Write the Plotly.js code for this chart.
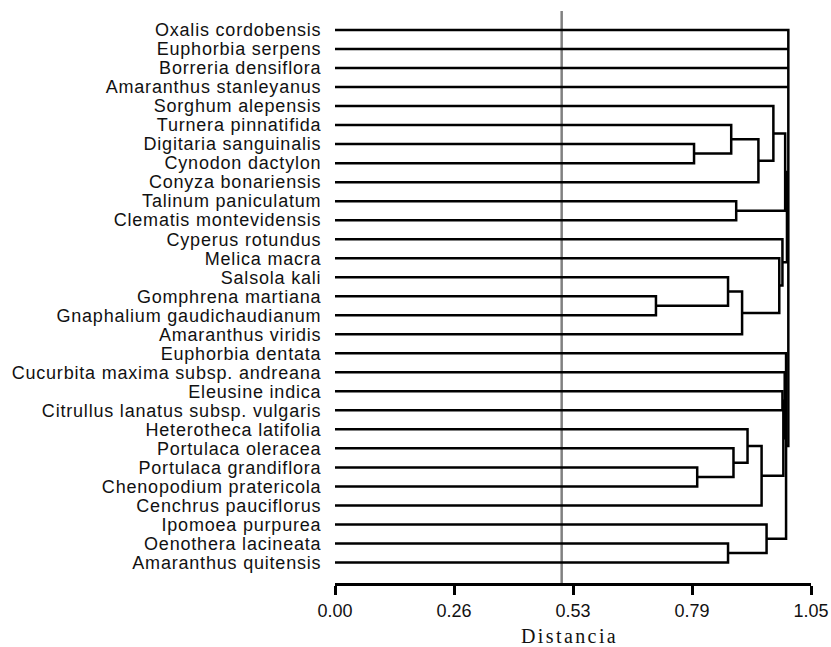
<!DOCTYPE html>
<html><head><meta charset="utf-8">
<script src="https://cdn.plot.ly/plotly-3.0.1.min.js"></script>
<style>
html,body{margin:0;padding:0;background:#fff;}
#chart{width:831px;height:647px;}
.ytick text{letter-spacing:0.8px;}
.annotation-text{letter-spacing:2.4px;}
</style></head><body><div id="chart"></div>
<script>
// Leaf labels, top to bottom
const leaves = [
  "Oxalis cordobensis","Euphorbia serpens","Borreria densiflora","Amaranthus stanleyanus",
  "Sorghum alepensis","Turnera pinnatifida","Digitaria sanguinalis","Cynodon dactylon",
  "Conyza bonariensis","Talinum paniculatum","Clematis montevidensis","Cyperus rotundus",
  "Melica macra","Salsola kali","Gomphrena martiana","Gnaphalium gaudichaudianum",
  "Amaranthus viridis","Euphorbia dentata","Cucurbita maxima subsp. andreana","Eleusine indica",
  "Citrullus lanatus subsp. vulgaris","Heterotheca latifolia","Portulaca oleracea",
  "Portulaca grandiflora","Chenopodium pratericola","Cenchrus pauciflorus",
  "Ipomoea purpurea","Oenothera lacineata","Amaranthus quitensis"
];
// Merges: node ids 0..28 are leaves, each merge creates the next id (29, 30, ...)
const mergeChildren = [
  [6,7],        // 29
  [5,29],       // 30
  [30,8],       // 31
  [4,31],       // 32
  [9,10],       // 33
  [32,33],      // 34
  [14,15],      // 35
  [13,35],      // 36
  [36,16],      // 37
  [12,37],      // 38
  [11,38],      // 39
  [34,39],      // 40
  [23,24],      // 41
  [22,41],      // 42
  [21,42],      // 43
  [43,25],      // 44
  [19,20],      // 45
  [45,44],      // 46
  [18,46],      // 47
  [27,28],      // 48
  [26,48],      // 49
  [17,47,49],   // 50
  [0,1,2,3,40,50] // 51 root
];
const mergeHeights = [
  0.792, 0.874, 0.934, 0.967, 0.885, 0.993,
  0.708, 0.867, 0.898, 0.980, 0.987, 0.997,
  0.799, 0.879, 0.910, 0.941,
  0.987, 0.989, 0.992,
  0.867, 0.952, 0.995, 1.0
];
const cutValue = 0.5;
const xTickVals = [0, 0.2625, 0.525, 0.7875, 1.05];
const xTickText = ["0.00", "0.26", "0.53", "0.79", "1.05"];

const nodeY = leaves.map((_, i) => i);
const nodeH = leaves.map(() => 0);
const xs = [], ys = [];
mergeChildren.forEach((ch, k) => {
  const H = mergeHeights[k];
  const sorted = ch.slice().sort((a, b) => nodeY[a] - nodeY[b]);
  const first = sorted[0], last = sorted[sorted.length - 1];
  xs.push(nodeH[first], H, H, nodeH[last], null);
  ys.push(nodeY[first], nodeY[first], nodeY[last], nodeY[last], null);
  sorted.slice(1, -1).forEach(c => {
    xs.push(nodeH[c], H, null);
    ys.push(nodeY[c], nodeY[c], null);
  });
  nodeY.push((nodeY[first] + nodeY[last]) / 2);
  nodeH.push(H);
});

const trace = {
  x: xs, y: ys, type: "scatter", mode: "lines",
  line: {color: "#000", width: 2.5}, hoverinfo: "skip", showlegend: false
};

const layout = {
  width: 831, height: 647,
  margin: {l: 335, r: 20, t: 11, b: 63.5},
  paper_bgcolor: "#fff", plot_bgcolor: "#fff",
  showlegend: false,
  xaxis: {
    range: [0, 1.05], showgrid: false, zeroline: false,
    showline: true, linecolor: "#000", linewidth: 3,
    ticks: "outside", ticklen: 9, tickwidth: 3, tickcolor: "#000",
    tickvals: xTickVals, ticktext: xTickText,
    tickfont: {family: "Liberation Sans, Arial, sans-serif", size: 18, color: "#111"},
    automargin: false, fixedrange: true
  },
  yaxis: {
    range: [29.08, -1.0], showgrid: false, zeroline: false, showline: false,
    ticks: "outside", ticklen: 9, tickcolor: "rgba(0,0,0,0)",
    tickvals: leaves.map((_, i) => i), ticktext: leaves,
    tickfont: {family: "Liberation Sans, Arial, sans-serif", size: 18, color: "#111"},
    automargin: false, fixedrange: true
  },
  shapes: [{
    type: "line", xref: "x", yref: "paper", x0: cutValue, x1: cutValue, y0: 0, y1: 1,
    line: {color: "#808080", width: 2.5}, layer: "below"
  }],
  annotations: [{
    text: "Distancia", xref: "paper", yref: "paper", x: 0.492, y: -0.0926,
    xanchor: "center", yanchor: "middle", showarrow: false,
    font: {family: "Liberation Serif, Times New Roman, serif", size: 20, color: "#111"}
  }]
};

Plotly.newPlot("chart", [trace], layout, {displayModeBar: false, staticPlot: true});
</script></body></html>
